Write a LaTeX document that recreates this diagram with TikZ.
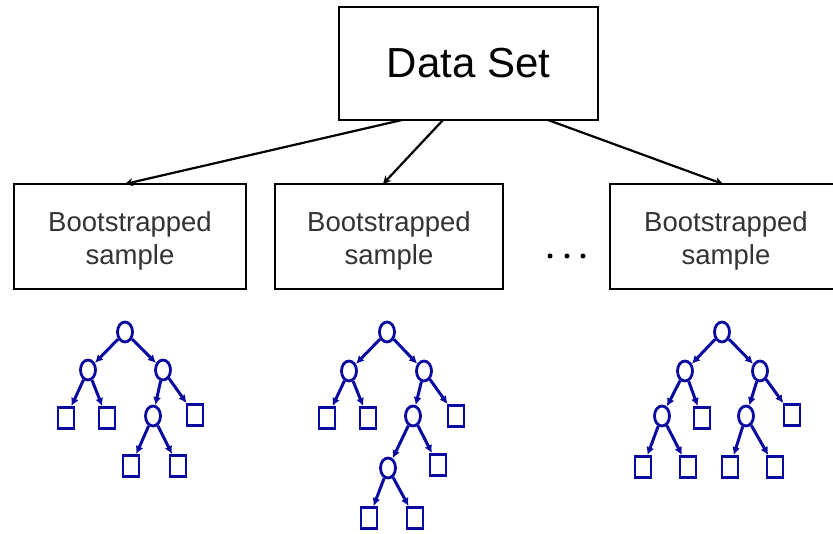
\documentclass[tikz,border=0pt]{standalone}
\usepackage{fontspec}
\setmainfont{Liberation Sans}
\usetikzlibrary{shapes.geometric,arrows.meta}
\definecolor{tblue}{RGB}{10,10,160}
\begin{document}
\begin{tikzpicture}[x=1pt,y=-1pt,
  bigbox/.style={draw,line width=2.6,inner sep=0,minimum width=259,minimum height=113,font=\fontsize{42}{50}\selectfont},
  bsbox/.style={draw,line width=2.4,inner sep=0,minimum height=105},
  bstext/.style={inner sep=0,align=center,font=\fontsize{27.5}{33}\selectfont,text=black!80},
  dsarrow/.style={line width=2.2,-{Stealth[length=8,width=8]}},
  tn/.style={ellipse,draw=tblue,line width=2.8,minimum width=15,minimum height=20,inner sep=0},
  tl/.style={rectangle,draw=tblue,line width=2.8,minimum width=16,minimum height=21,inner sep=0},
  te/.style={draw=tblue,line width=3,-{Latex[length=8,width=8]}},
  dot/.style={circle,fill=black,inner sep=0,minimum size=5}]
\useasboundingbox (0,0) rectangle (833,534);
% main boxes
\node[bigbox] (ds) at (468.5,63.5) {Data Set};
\node[bsbox,minimum width=232] (b1) at (130,236.5) {};
\node[bsbox,minimum width=228] (b2) at (389,236.5) {};
\node[bsbox,minimum width=232] (b3) at (726,236.5) {};
\node[bstext,yshift=-4pt] (t1) at (b1.center) {Bootstrapped\\sample};
\node[bstext,yshift=-4pt] (t2) at (b2.center) {Bootstrapped\\sample};
\node[bstext,yshift=-4pt] (t3) at (b3.center) {Bootstrapped\\sample};
% arrow endpoints
\coordinate (s1) at (402,120);
\coordinate (s2) at (443,120);
\coordinate (s3) at (548,120);
\coordinate (e1) at (125,184);
\coordinate (e2) at (383,184);
\coordinate (e3) at (723,184);
\draw[dsarrow] (s1) -- (e1);
\draw[dsarrow] (s2) -- (e2);
\draw[dsarrow] (s3) -- (e3);
% dots
\node[dot] (d1) at (550,256) {};
\node[dot] (d2) at (567,256) {};
\node[dot] (d3) at (583,256) {};
% tree 1
\node[tn] (a0) at (125,332) {};
\node[tn] (a1) at (88,370) {};
\node[tn] (a2) at (163,370) {};
\node[tl] (a3) at (66,418) {};
\node[tl] (a4) at (107,418) {};
\node[tn] (a5) at (153,416) {};
\node[tl] (a6) at (195,415) {};
\node[tl] (a7) at (131,466) {};
\node[tl] (a8) at (178,466) {};
\draw[te] (a0) -- (a1);
\draw[te] (a0) -- (a2);
\draw[te] (a1) -- (a3);
\draw[te] (a1) -- (a4);
\draw[te] (a2) -- (a5);
\draw[te] (a2) -- (a6);
\draw[te] (a5) -- (a7);
\draw[te] (a5) -- (a8);
% tree 2
\node[tn] (c0) at (387,332) {};
\node[tn] (c1) at (349,371) {};
\node[tn] (c2) at (424,371) {};
\node[tl] (c3) at (327,418) {};
\node[tl] (c4) at (368,418) {};
\node[tn] (c5) at (413,416) {};
\node[tl] (c6) at (456,416) {};
\node[tn] (c7) at (388,468) {};
\node[tl] (c8) at (438,465) {};
\node[tl] (c9) at (369,518) {};
\node[tl] (c10) at (415,518) {};
\draw[te] (c0) -- (c1);
\draw[te] (c0) -- (c2);
\draw[te] (c1) -- (c3);
\draw[te] (c1) -- (c4);
\draw[te] (c2) -- (c5);
\draw[te] (c2) -- (c6);
\draw[te] (c5) -- (c7);
\draw[te] (c5) -- (c8);
\draw[te] (c7) -- (c9);
\draw[te] (c7) -- (c10);
% tree 3
\node[tn] (f0) at (722,332) {};
\node[tn] (f1) at (685,371) {};
\node[tn] (f2) at (760,371) {};
\node[tn] (f3) at (662,416) {};
\node[tl] (f4) at (702,418) {};
\node[tn] (f5) at (746,416) {};
\node[tl] (f6) at (792,415) {};
\node[tl] (f7) at (643,467) {};
\node[tl] (f8) at (688,467) {};
\node[tl] (f9) at (730,467) {};
\node[tl] (f10) at (775,467) {};
\draw[te] (f0) -- (f1);
\draw[te] (f0) -- (f2);
\draw[te] (f1) -- (f3);
\draw[te] (f1) -- (f4);
\draw[te] (f2) -- (f5);
\draw[te] (f2) -- (f6);
\draw[te] (f3) -- (f7);
\draw[te] (f3) -- (f8);
\draw[te] (f5) -- (f9);
\draw[te] (f5) -- (f10);
\end{tikzpicture}
\end{document}
